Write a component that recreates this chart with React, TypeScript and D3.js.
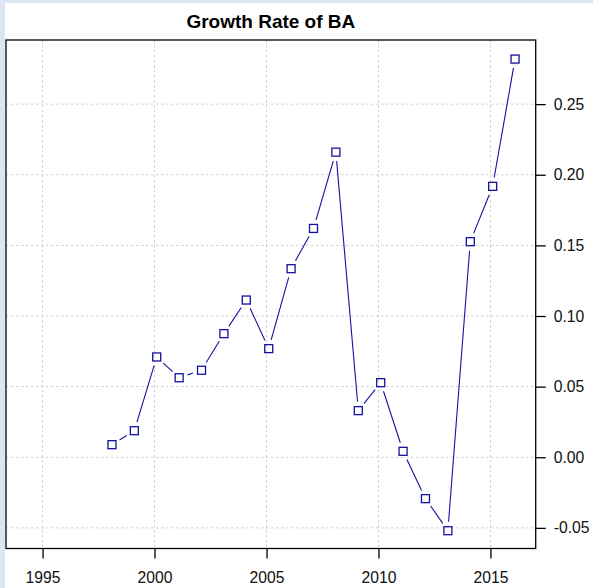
import { useEffect, useRef } from "react";
import * as d3 from "d3";

// yearly growth rate
const years = [1998, 1999, 2000, 2001, 2002, 2003, 2004, 2005, 2006, 2007, 2008, 2009, 2010, 2011, 2012, 2013, 2014, 2015, 2016];
const growth = [0.0089, 0.0188, 0.071, 0.0563, 0.0616, 0.0875, 0.1113, 0.0769, 0.1335, 0.162, 0.216, 0.033, 0.0528, 0.0042, -0.0293, -0.052, 0.1526, 0.1918, 0.2819];
const xTickYears = [1995, 2000, 2005, 2010, 2015];
const yTickValues = [-0.05, 0, 0.05, 0.1, 0.15, 0.2, 0.25];

export default function App() {
  const svgRef = useRef<SVGSVGElement | null>(null);

  useEffect(() => {
    const width = 593;
    const height = 588;
    const box = { left: 6, right: 535.7, top: 40, bottom: 548.5 };
    const blue = "#1212a0";

    const svg = d3.select(svgRef.current).attr("width", width).attr("height", height);
    svg.selectAll("*").remove();

    // page background with the light blue frame strips
    svg.append("rect").attr("width", width).attr("height", height).attr("fill", "#dce6f2");
    svg.append("rect").attr("x", 5).attr("y", 3).attr("width", width - 5).attr("height", height - 3).attr("fill", "#ffffff");

    const x = d3
      .scaleTime()
      .domain([new Date(1993, 4, 15), new Date(2017, 0, 8)])
      .range([box.left, box.right]);

    const y = d3.scaleLinear().domain([-0.0646, 0.2954]).range([box.bottom, box.top]);

    const font = "'Liberation Sans', Arial, sans-serif";

    // grid
    const grid = svg.append("g").attr("stroke", "#cfcfcf").attr("stroke-width", 1).attr("stroke-dasharray", "2.5,2.5");
    grid
      .selectAll("line.v")
      .data(xTickYears)
      .join("line")
      .attr("class", "v")
      .attr("x1", (d) => x(new Date(d, 0, 1)))
      .attr("x2", (d) => x(new Date(d, 0, 1)))
      .attr("y1", box.top)
      .attr("y2", box.bottom);
    grid
      .selectAll("line.h")
      .data(yTickValues)
      .join("line")
      .attr("class", "h")
      .attr("x1", box.left)
      .attr("x2", box.right)
      .attr("y1", (d) => y(d))
      .attr("y2", (d) => y(d));

    // data line, type "b" style: segments stop short of the points
    const pts = years.map((yr, i) => [x(new Date(yr, 1, 6)), y(growth[i])] as [number, number]);
    const gap = 9;
    const segs = d3.pairs(pts).map(([a, b]) => {
      const dx = b[0] - a[0];
      const dy = b[1] - a[1];
      const len = Math.hypot(dx, dy);
      const ux = dx / len;
      const uy = dy / len;
      return [a[0] + ux * gap, a[1] + uy * gap, b[0] - ux * gap, b[1] - uy * gap, len];
    });
    svg
      .append("g")
      .selectAll("line")
      .data(segs.filter((s) => s[4] > 2 * gap))
      .join("line")
      .attr("x1", (s) => s[0])
      .attr("y1", (s) => s[1])
      .attr("x2", (s) => s[2])
      .attr("y2", (s) => s[3])
      .attr("stroke", blue)
      .attr("stroke-width", 1.1);

    const size = 8;
    svg
      .append("g")
      .selectAll("rect")
      .data(pts)
      .join("rect")
      .attr("x", (p) => p[0] - size / 2)
      .attr("y", (p) => p[1] - size / 2)
      .attr("width", size)
      .attr("height", size)
      .attr("fill", "none")
      .attr("stroke", blue)
      .attr("stroke-width", 1.3);

    // box
    svg
      .append("rect")
      .attr("x", box.left)
      .attr("y", box.top)
      .attr("width", box.right - box.left)
      .attr("height", box.bottom - box.top)
      .attr("fill", "none")
      .attr("stroke", "#000")
      .attr("stroke-width", 1.3);

    // bottom axis
    const xAxis = svg
      .append("g")
      .attr("transform", `translate(0, ${box.bottom})`)
      .call(
        d3
          .axisBottom(x)
          .tickValues(xTickYears.map((d) => new Date(d, 0, 1)))
          .tickFormat((d) => String((d as Date).getFullYear()))
          .tickSize(10)
          .tickPadding(13)
      );
    xAxis.select(".domain").remove();
    xAxis.selectAll("line").attr("stroke", "#000").attr("stroke-width", 1.3);
    xAxis.selectAll("text").attr("font-family", font).attr("font-size", 15.7).attr("fill", "#111");

    // right axis
    const yAxis = svg
      .append("g")
      .attr("transform", `translate(${box.right}, 0)`)
      .call(
        d3
          .axisRight(y)
          .tickValues(yTickValues)
          .tickFormat((d) => (d as number).toFixed(2))
          .tickSize(10)
          .tickPadding(8)
      );
    yAxis.select(".domain").remove();
    yAxis.selectAll("line").attr("stroke", "#000").attr("stroke-width", 1.3);
    yAxis.selectAll("text").attr("font-family", font).attr("font-size", 15.7).attr("fill", "#111");

    // title
    svg
      .append("text")
      .attr("x", (box.left + box.right) / 2)
      .attr("y", 28)
      .attr("text-anchor", "middle")
      .attr("font-family", font)
      .attr("font-weight", "bold")
      .attr("font-size", 19)
      .attr("fill", "#000")
      .text("Growth Rate of BA");
  }, []);

  return (
    <div style={{ position: "absolute", left: 0, top: 0 }}>
      <svg ref={svgRef} style={{ display: "block" }}></svg>
    </div>
  );
}
